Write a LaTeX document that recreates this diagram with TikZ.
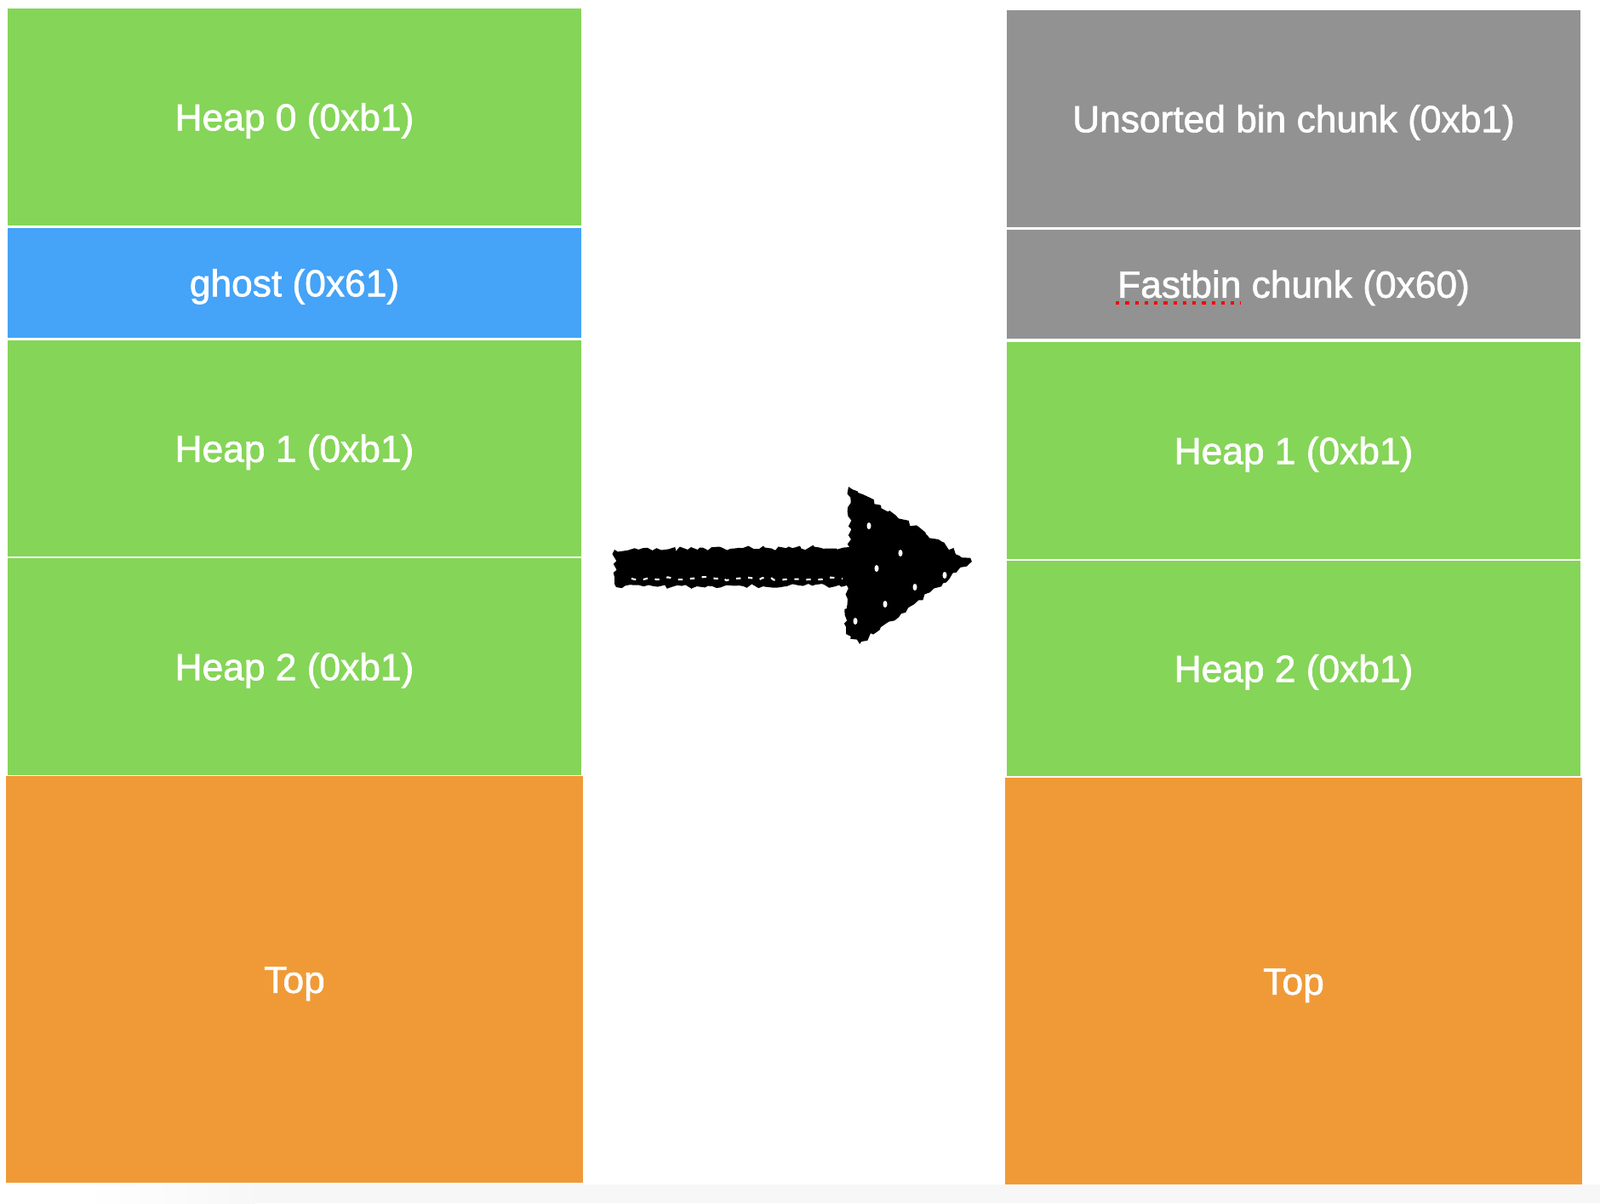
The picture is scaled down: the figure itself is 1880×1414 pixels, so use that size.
\documentclass[tikz,border=0pt]{standalone}
\usepackage{fontspec}
\setmainfont{Liberation Sans}[FakeBold=1.5]
\usetikzlibrary{calc, decorations.pathmorphing}

\definecolor{heapgreen}{HTML}{85D558}
\definecolor{ghostblue}{HTML}{45A3F8}
\definecolor{bingray}{HTML}{929292}
\definecolor{toporange}{HTML}{F09A37}

\begin{document}
\begin{tikzpicture}[x=0.01cm, y=-0.01cm,
  every node/.style={font=\fontsize{12.6}{15}\selectfont},
  chunk/.style={rectangle, inner sep=0pt, minimum width=6.74cm, text=white, text height=9pt, text depth=0pt},
  topchunk/.style={chunk, fill=toporange, minimum width=6.78cm, minimum height=4.78cm}]
			\useasboundingbox[fill=white] (0,0) rectangle (1880,1414);
			% Shadow under the page
			\shade[left color=white, right color=black!3] (100,1392) rectangle (300,1414);
			\fill[black!3] (300,1392) rectangle (1880,1414);

			% Left column
			\node[chunk, fill=heapgreen, minimum height=2.55cm] (heapzero) at (346,137.5) {Heap 0 (0xb1)};
			\node[chunk, fill=ghostblue, minimum height=1.29cm] (ghost) at (346,332.5) {ghost (0x61)};
			\node[chunk, fill=heapgreen, minimum height=2.54cm] (heapone) at (346,527) {Heap 1 (0xb1)};
			\node[chunk, fill=heapgreen, minimum height=2.54cm] (heaptwo) at (346,783.5) {Heap 2 (0xb1)};
			\node[topchunk] (topl) at (346,1151) {Top};

			% Right column
			\node[chunk, fill=bingray, minimum height=2.55cm] (unsorted) at (1520,139.5) {Unsorted bin chunk (0xb1)};
			\node[chunk, fill=bingray, minimum height=1.28cm] (fastbin) at (1520,334) {Fastbin chunk (0x60)};
			\node[chunk, fill=heapgreen, minimum height=2.55cm] (heaponer) at (1520,529.5) {Heap 1 (0xb1)};
			\node[chunk, fill=heapgreen, minimum height=2.53cm] (heaptwor) at (1520,785.5) {Heap 2 (0xb1)};
			\node[topchunk] (topr) at (1520,1153) {Top};
			\draw[red, dotted, line width=1.2pt] (1311,356) -- (1458,356);

			% Arrow
			\coordinate (tail) at (722,666);
			\coordinate (tip) at (1142,660);
			\fill[black, decorate, decoration={random steps, segment length=1.5pt, amplitude=0.8pt}]
				($(tail)+(0,-20)$) -- (998,643) -- (997,572) -- (tip) -- (1010,757) -- (994,745) -- (995,688) -- ($(tail)+(2,24)$) -- cycle;
			\foreach \px/\py in {1062/602, 1021/618, 1058/650, 1090/625, 1040/710, 1075/690, 1005/730, 1110/676, 1030/668}
				\fill[white] (\px,\py) ellipse (2.5 and 4);
			\draw[white, line width=0.6pt, dash pattern=on 1.5pt off 2.5pt, decorate, decoration={random steps, segment length=2pt, amplitude=0.6pt}]
				($(tail)+(20,14)$) -- (990,680);
		\end{tikzpicture}
\end{document}
